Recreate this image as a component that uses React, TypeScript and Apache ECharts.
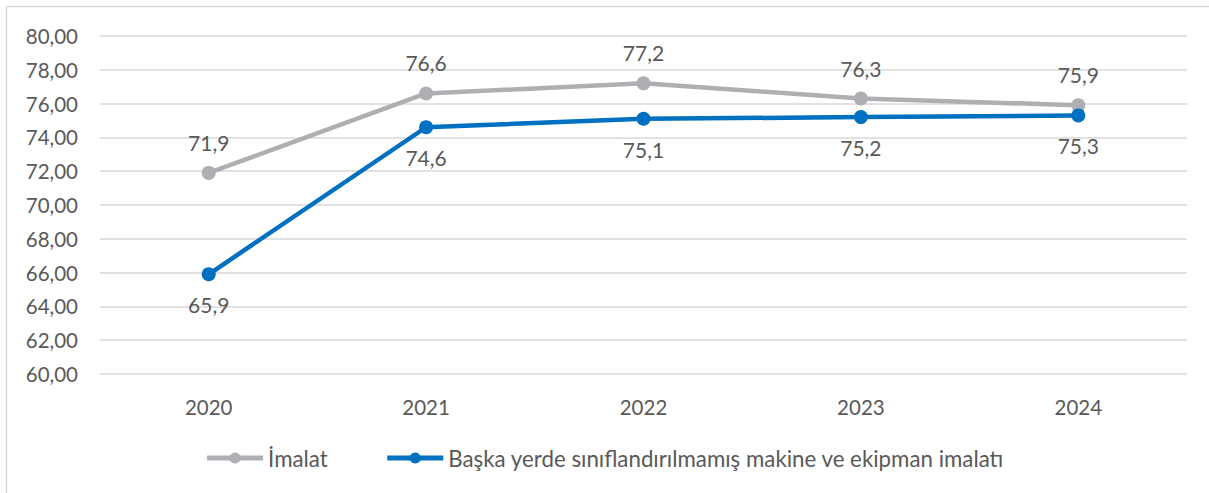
import React, { useEffect, useRef } from "react";
import * as echarts from "echarts";

const years = ["2020", "2021", "2022", "2023", "2024"];
const imalat = [71.9, 76.6, 77.2, 76.3, 75.9];
const makine = [65.9, 74.6, 75.1, 75.2, 75.3];
const seriesNames = ["İmalat", "Başka yerde sınıflandırılmamış makine ve ekipman imalatı"];

const FONT = "Lato, 'Open Sans', sans-serif";
const TXT = "#595959";

export default function App() {
  const ref = useRef<HTMLDivElement>(null);
  useEffect(() => {
    if (!ref.current) return;
    const chart = echarts.init(ref.current, undefined, { renderer: "svg" });
    const fmt1 = (p: any) => Number(p.value).toFixed(1).replace(".", ",");
    chart.setOption({
      animation: false,
      backgroundColor: "#ffffff",
      textStyle: { fontFamily: FONT },
      graphic: [
        {
          type: "rect",
          shape: { x: 6.5, y: 6.5, width: 1300, height: 600 },
          style: { fill: "none", stroke: "#D9D9D9", lineWidth: 1.5 },
          silent: true,
        },
      ],
      grid: { left: 100, right: 22, top: 36, bottom: 119, containLabel: false },
      legend: {
        bottom: 19,
        left: "center",
        itemWidth: 56,
        itemHeight: 14,
        itemGap: 57,
        lineStyle: { width: 5 },
        textStyle: { color: TXT, fontSize: 22.3, fontFamily: FONT },
        data: seriesNames,
      },
      xAxis: {
        type: "category",
        data: years,
        boundaryGap: true,
        axisLine: { show: false },
        axisTick: { show: false },
        axisLabel: { color: TXT, fontSize: 20.5, margin: 22, fontFamily: FONT },
      },
      yAxis: {
        type: "value",
        min: 60,
        max: 80,
        interval: 2,
        axisLine: { show: false },
        axisTick: { show: false },
        splitLine: { lineStyle: { color: "#D9D9D9", width: 1.5 } },
        axisLabel: {
          color: TXT,
          fontSize: 20.5,
          margin: 22,
          fontFamily: FONT,
          formatter: (v: number) => v.toFixed(2).replace(".", ","),
        },
      },
      series: [
        {
          name: seriesNames[0],
          type: "line",
          data: imalat,
          color: "#ADAFB2",
          lineStyle: { width: 4.5, color: "#ADAFB2" },
          symbol: "circle",
          symbolSize: 14,
          itemStyle: { color: "#ADAFB2" },
          label: {
            show: true,
            position: "top",
            distance: 13,
            color: TXT,
            fontSize: 21,
            fontFamily: FONT,
            formatter: fmt1,
          },
        },
        {
          name: seriesNames[1],
          type: "line",
          data: makine,
          color: "#0070C0",
          lineStyle: { width: 4.5, color: "#0070C0" },
          symbol: "circle",
          symbolSize: 14,
          itemStyle: { color: "#0070C0" },
          label: {
            show: true,
            position: "bottom",
            distance: 13,
            color: TXT,
            fontSize: 21,
            fontFamily: FONT,
            formatter: fmt1,
          },
        },
      ],
    });
    return () => chart.dispose();
  }, []);
  return (
    <div
      ref={ref}
      style={{ position: "absolute", left: 0, top: 0, width: 1209, height: 493 }}
    />
  );
}
